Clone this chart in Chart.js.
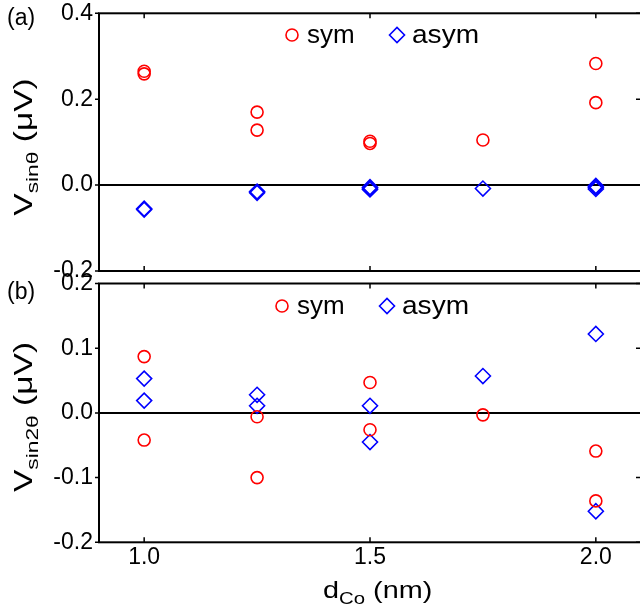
<!DOCTYPE html>
<html>
<head>
<meta charset="utf-8">
<script src="https://cdn.jsdelivr.net/npm/chart.js@4.4.0/dist/chart.umd.min.js"></script>
<style>
html, body { margin: 0; padding: 0; background: #fff; overflow: hidden; width: 640px; height: 608px; }
canvas { position: absolute; left: 0; }
#cA { top: 0; }
#cB { top: 260px; }
</style>
</head>
<body>
<canvas id="cA" width="642" height="290"></canvas>
<canvas id="cB" width="642" height="348"></canvas>
<script>
// x positions: d_Co (nm)
var xTicks = [1.0, 1.5, 2.0];
var sinTicks = [-0.2, 0.0, 0.2, 0.4];
var sin2Ticks = [-0.2, -0.1, 0.0, 0.1, 0.2];

// panel (a) V_sin(theta)
var symSinX = [1.0, 1.0, 1.25, 1.25, 1.5, 1.5, 1.75, 2.0, 2.0];
var symSinY = [0.265, 0.259, 0.170, 0.128, 0.102, 0.097, 0.105, 0.283, 0.192];
var asymSinX = [1.0, 1.0, 1.25, 1.25, 1.5, 1.5, 1.5, 1.75, 2.0, 2.0, 2.0];
var asymSinY = [-0.057, -0.055, -0.018, -0.015, -0.010, -0.007, -0.005, -0.008, -0.002, -0.005, -0.009];

// panel (b) V_sin(2theta)
var symSin2X = [1.0, 1.0, 1.25, 1.25, 1.5, 1.5, 1.75, 2.0, 2.0];
var symSin2Y = [0.087, -0.042, -0.006, -0.100, 0.047, -0.026, -0.003, -0.059, -0.136];
var asymSin2X = [1.0, 1.0, 1.25, 1.25, 1.5, 1.5, 1.75, 2.0, 2.0];
var asymSin2Y = [0.053, 0.019, 0.028, 0.011, 0.011, -0.045, 0.057, 0.122, -0.152];

var FONT = '"Liberation Sans", Arial, sans-serif';

function pts(xs, ys) {
    return xs.map(function(x, i) { return {x: x, y: ys[i]}; });
}

// draws text pieces (main + subscript) one after another
function drawParts(ctx, parts, x, y, center) {
    var total = 0;
    parts.forEach(function(p) {
        ctx.font = p.size + 'px ' + FONT;
        p.w = ctx.measureText(p.t).width;
        total += p.w;
    });
    var cur = center ? x - total / 2 : x;
    parts.forEach(function(p) {
        ctx.font = p.size + 'px ' + FONT;
        ctx.fillText(p.t, cur, y + (p.dy || 0));
        cur += p.w;
    });
}

// border box, inward/outward ticks, zero line, titles and legend
function framePlugin(cfg) {
    return {
        id: 'frame',
        beforeDatasetsDraw: function(chart) {
            var ctx = chart.ctx, a = chart.chartArea;
            var y0 = chart.scales.y.getPixelForValue(0);
            ctx.save();
            ctx.strokeStyle = '#000';
            ctx.lineWidth = 2;
            ctx.beginPath();
            ctx.moveTo(a.left, y0);
            ctx.lineTo(a.right, y0);
            ctx.stroke();
            ctx.restore();
        },
        afterDraw: function(chart) {
            var ctx = chart.ctx, a = chart.chartArea;
            var sx = chart.scales.x, sy = chart.scales.y;
            ctx.save();
            ctx.strokeStyle = '#000';
            ctx.lineWidth = 2;
            ctx.strokeRect(a.left, a.top, a.right - a.left, a.bottom - a.top);
            ctx.lineWidth = 1.5;
            ctx.beginPath();
            xTicks.forEach(function(v) {
                var px = sx.getPixelForValue(v);
                ctx.moveTo(px, a.top);
                ctx.lineTo(px, a.top + 5);
                ctx.moveTo(px, a.bottom);
                ctx.lineTo(px, a.bottom - 5);
            });
            cfg.yTicks.forEach(function(v) {
                var py = sy.getPixelForValue(v);
                ctx.moveTo(a.left - 4, py);
                ctx.lineTo(a.left, py);
                ctx.moveTo(a.right, py);
                ctx.lineTo(a.right - 5, py);
            });
            ctx.stroke();

            ctx.fillStyle = '#000';
            ctx.textBaseline = 'alphabetic';
            ctx.textAlign = 'left';
            // panel label
            ctx.font = '23px ' + FONT;
            ctx.fillText(cfg.label, 7, cfg.labelY);

            // y title (stretched along its length like the original)
            ctx.save();
            ctx.translate(32, cfg.titleY);
            ctx.rotate(-Math.PI / 2);
            ctx.scale(1.34, 1);
            drawParts(ctx, [
                {t: 'V', size: 25},
                {t: cfg.sub, size: 17, dy: 6},
                {t: ' (\u03bcV)', size: 25}
            ], 0, 0, true);
            ctx.restore();

            // x title
            if (cfg.xTitle) {
                ctx.save();
                ctx.translate(323, 338);
                ctx.scale(1.2, 1);
                drawParts(ctx, [
                    {t: 'd', size: 24},
                    {t: 'Co', size: 17, dy: 6},
                    {t: ' (nm)', size: 24}
                ], 0, 0, false);
                ctx.restore();
            }

            // legend
            var ly = cfg.legY;
            ctx.lineWidth = 1.6;
            ctx.strokeStyle = '#ff0000';
            ctx.beginPath();
            ctx.arc(cfg.legX, ly, 6, 0, Math.PI * 2);
            ctx.stroke();
            ctx.font = '26px ' + FONT;
            ctx.fillText('sym', cfg.legX + 15, ly + 8);
            var dx = cfg.legX + 105;
            ctx.strokeStyle = '#0000ff';
            ctx.beginPath();
            ctx.moveTo(dx - 7.5, ly);
            ctx.lineTo(dx, ly - 7.5);
            ctx.lineTo(dx + 7.5, ly);
            ctx.lineTo(dx, ly + 7.5);
            ctx.closePath();
            ctx.stroke();
            ctx.save();
            ctx.translate(dx + 15, ly + 8);
            ctx.scale(1.08, 1);
            ctx.fillText('asym', 0, 0);
            ctx.restore();
            ctx.restore();
        }
    };
}

function yScale(min, max, ticks) {
    return {
        type: 'linear',
        min: min,
        max: max,
        afterBuildTicks: function(s) {
            s.ticks = ticks.map(function(v) { return {value: v}; });
        },
        afterFit: function(s) {
            s.width = 99;
            s.paddingTop = 0;
            s.paddingBottom = 0;
        },
        grid: {display: false, drawTicks: false},
        border: {display: false},
        ticks: {
            padding: 6,
            color: '#000',
            font: {family: FONT, size: 23},
            callback: function(v) { return v.toFixed(1); }
        }
    };
}

function datasets(sx, sy, ax, ay) {
    return [
        {
            label: 'sym',
            data: pts(sx, sy),
            pointStyle: 'circle',
            pointRadius: 6,
            borderWidth: 1.6,
            borderColor: '#ff0000',
            backgroundColor: 'rgba(0,0,0,0)'
        },
        {
            label: 'asym',
            data: pts(ax, ay),
            pointStyle: 'rectRot',
            pointRadius: 7.5,
            borderWidth: 1.6,
            borderColor: '#0000ff',
            backgroundColor: 'rgba(0,0,0,0)'
        }
    ];
}

var common = {
    responsive: false,
    animation: false,
    plugins: {legend: {display: false}, tooltip: {enabled: false}}
};

new Chart(document.getElementById('cA').getContext('2d'), {
    type: 'scatter',
    data: {datasets: datasets(symSinX, symSinY, asymSinX, asymSinY)},
    options: Object.assign({}, common, {
        layout: {autoPadding: false, padding: {top: 13.3, right: 1, bottom: 19, left: 0}},
        scales: {
            x: {type: 'linear', min: 0.9, max: 2.1, display: false},
            y: yScale(-0.2, 0.4, sinTicks)
        }
    }),
    plugins: [framePlugin({
        yTicks: sinTicks, label: '(a)', labelY: 25, sub: 'sin\u03b8',
        titleY: 147, legX: 292, legY: 35, xTitle: false
    })]
});

new Chart(document.getElementById('cB').getContext('2d'), {
    type: 'scatter',
    data: {datasets: datasets(symSin2X, symSin2Y, asymSin2X, asymSin2Y)},
    options: Object.assign({}, common, {
        layout: {autoPadding: false, padding: {top: 23.5, right: 1, bottom: 0, left: 0}},
        scales: {
            x: {
                type: 'linear',
                min: 0.9,
                max: 2.1,
                afterBuildTicks: function(s) {
                    s.ticks = xTicks.map(function(v) { return {value: v}; });
                },
                afterFit: function(s) {
                    s.height = 65.7;
                    s.paddingLeft = 0;
                    s.paddingRight = 0;
                },
                grid: {display: false, drawTicks: false},
                border: {display: false},
                ticks: {
                    padding: 2,
                    maxRotation: 0,
                    color: '#000',
                    font: {family: FONT, size: 23},
                    callback: function(v) { return v.toFixed(1); }
                }
            },
            y: yScale(-0.2, 0.2, sin2Ticks)
        }
    }),
    plugins: [framePlugin({
        yTicks: sin2Ticks, label: '(b)', labelY: 39, sub: 'sin2\u03b8',
        titleY: 157, legX: 282, legY: 46, xTitle: true
    })]
});
</script>
</body>
</html>
